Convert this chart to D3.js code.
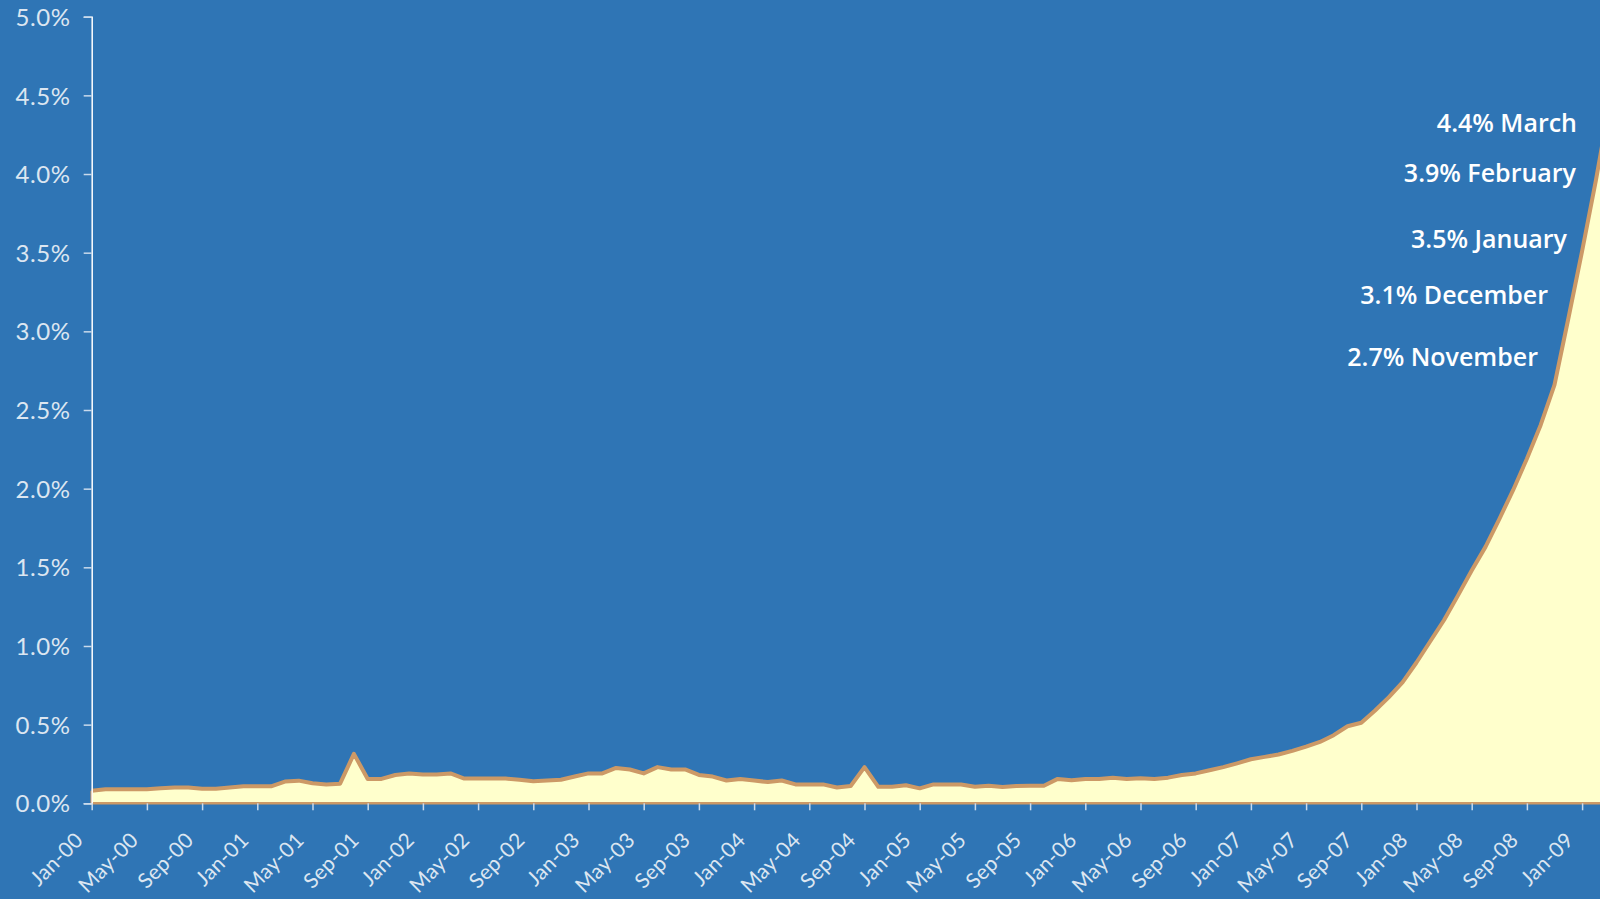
<!DOCTYPE html>
<html>
<head>
<meta charset="utf-8">
<script src="https://cdn.jsdelivr.net/npm/d3@7/dist/d3.min.js"></script>
<style>
  html, body { margin: 0; padding: 0; background: #2F75B5; overflow: hidden; }
  svg { display: block; }
</style>
</head>
<body>
<svg id="chart" width="1600" height="899"></svg>
<script>
// ---------- DATA ----------
const monthNames = ["Jan","Feb","Mar","Apr","May","Jun","Jul","Aug","Sep","Oct","Nov","Dec"];
const months = [];
for (let y = 0; y <= 9; y++) {
  for (let m = 0; m < 12; m++) {
    if (y === 9 && m > 2) break;
    months.push(monthNames[m] + "-" + String(y).padStart(2, "0"));
  }
}
// Rate (%) per month, Jan-00 .. Mar-09
const rates = [
  0.08, 0.09, 0.09, 0.09, 0.09, 0.095, 0.10, 0.10, 0.093, 0.093, 0.10, 0.108,
  0.108, 0.108, 0.138, 0.144, 0.127, 0.12, 0.125, 0.314, 0.155, 0.155, 0.18, 0.19,
  0.183, 0.183, 0.19, 0.157, 0.157, 0.157, 0.157, 0.15, 0.14, 0.145, 0.15, 0.17,
  0.19, 0.19, 0.225, 0.215, 0.19, 0.23, 0.215, 0.215, 0.18, 0.17, 0.145, 0.155,
  0.145, 0.135, 0.145, 0.12, 0.12, 0.12, 0.10, 0.11, 0.23, 0.105, 0.105, 0.115,
  0.095, 0.12, 0.12, 0.12, 0.105, 0.112, 0.104, 0.11, 0.112, 0.112, 0.155, 0.146,
  0.155, 0.155, 0.163, 0.155, 0.16, 0.155, 0.163, 0.18, 0.19, 0.21, 0.23, 0.254,
  0.28, 0.295, 0.31, 0.333, 0.36, 0.39, 0.433, 0.49, 0.512, 0.59, 0.675, 0.77,
  0.895, 1.03, 1.165, 1.32, 1.48, 1.63, 1.807, 1.99, 2.19, 2.405, 2.66, 3.08,
  3.51, 3.96, 4.45
];
const yTicks = [0, 0.5, 1.0, 1.5, 2.0, 2.5, 3.0, 3.5, 4.0, 4.5, 5.0];
const xTickLabels = months.filter((d, i) => i % 4 === 0);
const annotations = ["4.4% March", "3.9% February", "3.5% January", "3.1% December", "2.7% November"];

// ---------- LAYOUT ----------
const annoPos = [
  {x: 1577, y: 132}, {x: 1576, y: 182}, {x: 1567, y: 248}, {x: 1548, y: 304}, {x: 1538, y: 366}
];
const svg = d3.select("#chart");
const x = d3.scalePoint().domain(months).range([91.7, 1609.7]);
const y = d3.scaleLinear().domain([0, 5]).range([803.3, 16.7]);

const data = months.map((m, i) => ({m, v: rates[i]}));

// area fill
svg.append("path")
  .datum(data)
  .attr("fill", "#FFFFCC")
  .attr("d", d3.area().x(d => x(d.m)).y0(y(0)).y1(d => y(d.v)));

// bottom & left border of area
svg.append("path")
  .attr("fill", "none")
  .attr("stroke", "#CC9966")
  .attr("stroke-width", 2.5)
  .attr("d", () => {
    const x0 = x(months[0]), x1 = x(months[months.length - 1]);
    return `M${x0},${y(rates[0])}L${x0},${y(0)}L${x1},${y(0)}`;
  });

// top line
svg.append("path")
  .datum(data)
  .attr("fill", "none")
  .attr("stroke", "#CC9966")
  .attr("stroke-width", 4)
  .attr("stroke-linejoin", "round")
  .attr("d", d3.line().x(d => x(d.m)).y(d => y(d.v)));

// y axis
const yAxis = svg.append("g")
  .attr("transform", `translate(${x(months[0])},0)`)
  .call(d3.axisLeft(y).tickValues(yTicks).tickSize(8).tickPadding(13)
        .tickFormat(d => d.toFixed(1) + "%"));
yAxis.select(".domain").attr("stroke", "#FFFFFF").attr("stroke-width", 1.5);
yAxis.selectAll(".tick line").attr("stroke", "#C9DAEC").attr("stroke-width", 1.5);
yAxis.selectAll(".tick text")
  .attr("fill", "#DCE6F1")
  .style("font-family", "Lato, 'Noto Sans', sans-serif")
  .style("font-size", "24px")
  .style("letter-spacing", "0.6px")
  .attr("dy", "0.36em");

// x axis
const xAxis = svg.append("g")
  .attr("transform", `translate(0,${y(0)})`)
  .call(d3.axisBottom(x).tickValues(xTickLabels).tickSize(7).tickPadding(0));
xAxis.select(".domain").remove();
xAxis.selectAll(".tick line").attr("stroke", "#C9DAEC").attr("stroke-width", 1.5);
xAxis.selectAll(".tick text")
  .attr("fill", "#DCE6F1")
  .style("font-family", "Lato, 'Noto Sans', sans-serif")
  .style("font-size", "21px")
  .style("letter-spacing", "0.3px")
  .attr("text-anchor", "end")
  .attr("y", 0)
  .attr("dy", "0.35em")
  .attr("transform", "translate(-13,33) rotate(-45)");

// annotations
svg.append("g").selectAll("text")
  .data(annotations)
  .join("text")
  .attr("x", (d, i) => annoPos[i].x)
  .attr("y", (d, i) => annoPos[i].y)
  .attr("text-anchor", "end")
  .attr("fill", "#FFFFFF")
  .style("font-family", "'Open Sans', 'Noto Sans', sans-serif")
  .style("font-weight", "600")
  .style("font-size", "25px")
  .text(d => d);
</script>
</body>
</html>
